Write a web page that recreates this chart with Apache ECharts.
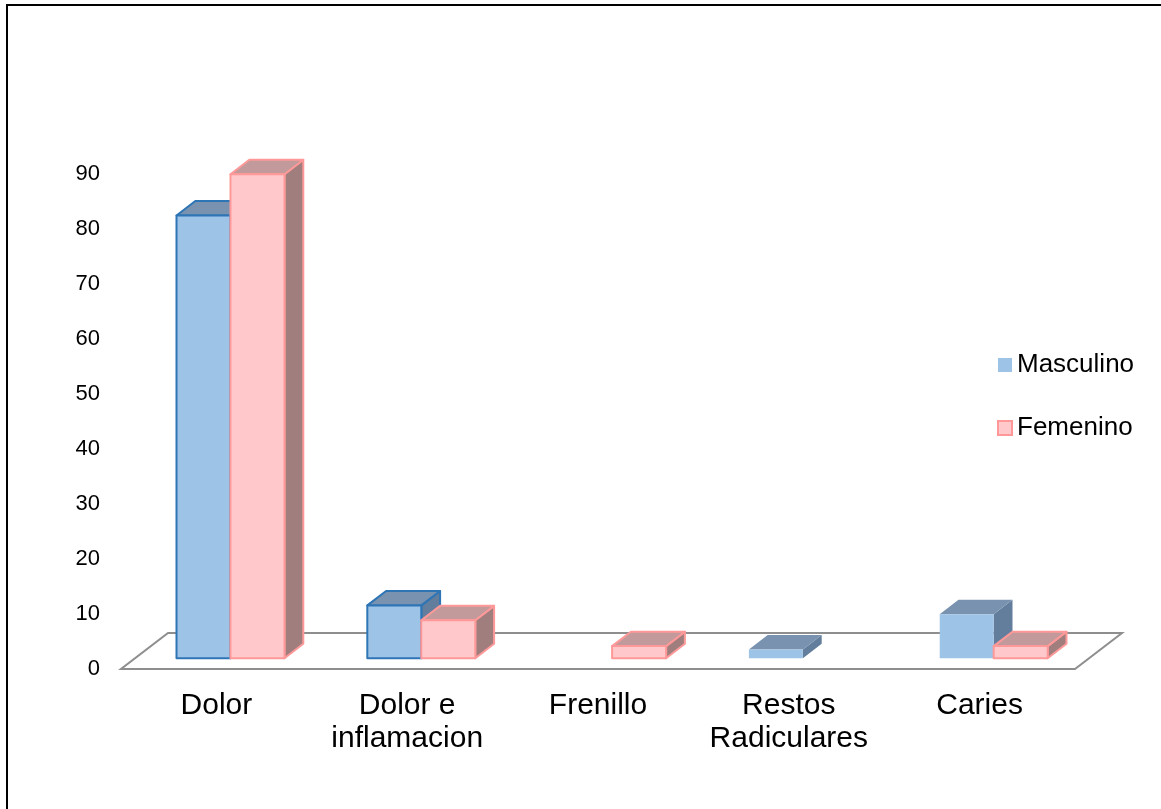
<!DOCTYPE html>
<html>
<head>
<meta charset="utf-8">
<script src="https://cdn.jsdelivr.net/npm/echarts@6/dist/echarts.min.js"></script>
<style>
html,body{margin:0;padding:0;background:#fff;}
#chart{width:1161px;height:809px;}
</style>
</head>
<body>
<div id="chart"></div>
<script>
// ---- data ----
const categories = ['Dolor', 'Dolor e\ninflamacion', 'Frenillo', 'Restos\nRadiculares', 'Caries'];
const seriesNames = ['Masculino', 'Femenino'];
const masculino = [80.5, 9.6, 0, 1.6, 8.0];
const femenino = [88, 6.9, 2.2, 0, 2.2];
const yTicks = { min: 0, max: 90, interval: 10 };

// ---- styles ----
const FONT = 'Arial, "Liberation Sans", sans-serif';
const DEPTH = [47, -36];          // floor depth vector (px)
const FRONT_F = 0.3, BACK_F = 0.7; // bar depth placement within floor
const BAR_FRAC = 0.283;           // bar width as fraction of band
const MASC_OUTLINED = [0, 1];     // masc bars drawn with a blue outline
const STY = [
  { front: '#9DC3E6', top: '#7892AF', side: '#637E9C', stroke: '#2E75B6' },
  { front: '#FFC9CC', top: '#C39A9B', side: '#A07E7E', stroke: '#FF9999' }
];

function barRenderer(s) {
  return function (params, api) {
    const cat = api.value(0), v = api.value(1);
    if (!v) return null;
    const base = api.coord([cat, 0]);
    const top = api.coord([cat, v]);
    const band = api.size([1, 0])[0];
    const bw = band * BAR_FRAC;
    const fx = DEPTH[0] * FRONT_F, fy = DEPTH[1] * FRONT_F;
    const dx = DEPTH[0] * (BACK_F - FRONT_F), dy = DEPTH[1] * (BACK_F - FRONT_F);
    const x0 = base[0] + (s === 0 ? -bw : 0) + fx;
    const y0 = base[1] + fy;
    const yt = top[1] + fy;
    const st = STY[s];
    const outlined = s === 1 || MASC_OUTLINED.indexOf(params.dataIndex) >= 0;
    const strokeStyle = outlined ? { stroke: st.stroke, lineWidth: 2, lineJoin: 'round' } : { stroke: null, lineWidth: 0 };
    return {
      type: 'group',
      children: [
        { type: 'polygon', shape: { points: [[x0 + bw, yt], [x0 + bw + dx, yt + dy], [x0 + bw + dx, y0 + dy], [x0 + bw, y0]] },
          style: Object.assign({ fill: st.side }, strokeStyle) },
        { type: 'polygon', shape: { points: [[x0, yt], [x0 + bw, yt], [x0 + bw + dx, yt + dy], [x0 + dx, yt + dy]] },
          style: Object.assign({ fill: st.top }, strokeStyle) },
        { type: 'rect', shape: { x: x0, y: yt, width: bw, height: y0 - yt },
          style: Object.assign({ fill: st.front }, strokeStyle) }
      ]
    };
  };
}

function floorRenderer(params, api) {
  const c = params.coordSys;
  const x = c.x, y = c.y + c.height, w = c.width;
  return {
    type: 'polygon',
    shape: { points: [[x, y], [x + w, y], [x + w + DEPTH[0], y + DEPTH[1]], [x + DEPTH[0], y + DEPTH[1]]] },
    style: { fill: 'none', stroke: '#8E8E8E', lineWidth: 2 }
  };
}

const chart = echarts.init(document.getElementById('chart'), null, { renderer: 'canvas' });
chart.setOption({
  animation: false,
  backgroundColor: '#fff',
  textStyle: { fontFamily: FONT },
  graphic: [{
    type: 'rect', shape: { x: 7, y: 5, width: 1250, height: 900 },
    style: { fill: 'none', stroke: '#000', lineWidth: 2 }, silent: true
  }],
  grid: { left: 121, right: 86, top: 174, bottom: 140, containLabel: false },
  legend: {
    orient: 'vertical', left: 997, top: 352, padding: 0, itemWidth: 14, itemHeight: 14, itemGap: 37,
    icon: 'rect',
    textStyle: { fontSize: 26, lineHeight: 26, color: '#000', fontFamily: FONT },
    data: seriesNames
  },
  xAxis: {
    type: 'category', data: categories,
    axisLine: { show: false }, axisTick: { show: false },
    axisLabel: { fontSize: 30, lineHeight: 33, color: '#000', margin: 20, interval: 0, fontFamily: FONT }
  },
  yAxis: {
    type: 'value', min: yTicks.min, max: yTicks.max, interval: yTicks.interval,
    axisLine: { show: false }, axisTick: { show: false }, splitLine: { show: false },
    axisLabel: { fontSize: 22, color: '#000', margin: 21, fontFamily: FONT }
  },
  series: [
    { type: 'custom', name: '_floor', renderItem: floorRenderer, data: [[0, 0]], z: 1, silent: true },
    { type: 'custom', name: seriesNames[0], renderItem: barRenderer(0),
      itemStyle: { color: STY[0].front },
      data: masculino.map((v, i) => [i, v]), z: 2 },
    { type: 'custom', name: seriesNames[1], renderItem: barRenderer(1),
      itemStyle: { color: STY[1].front, borderColor: STY[1].stroke, borderWidth: 2 },
      data: femenino.map((v, i) => [i, v]), z: 3 }
  ]
});
</script>
</body>
</html>
